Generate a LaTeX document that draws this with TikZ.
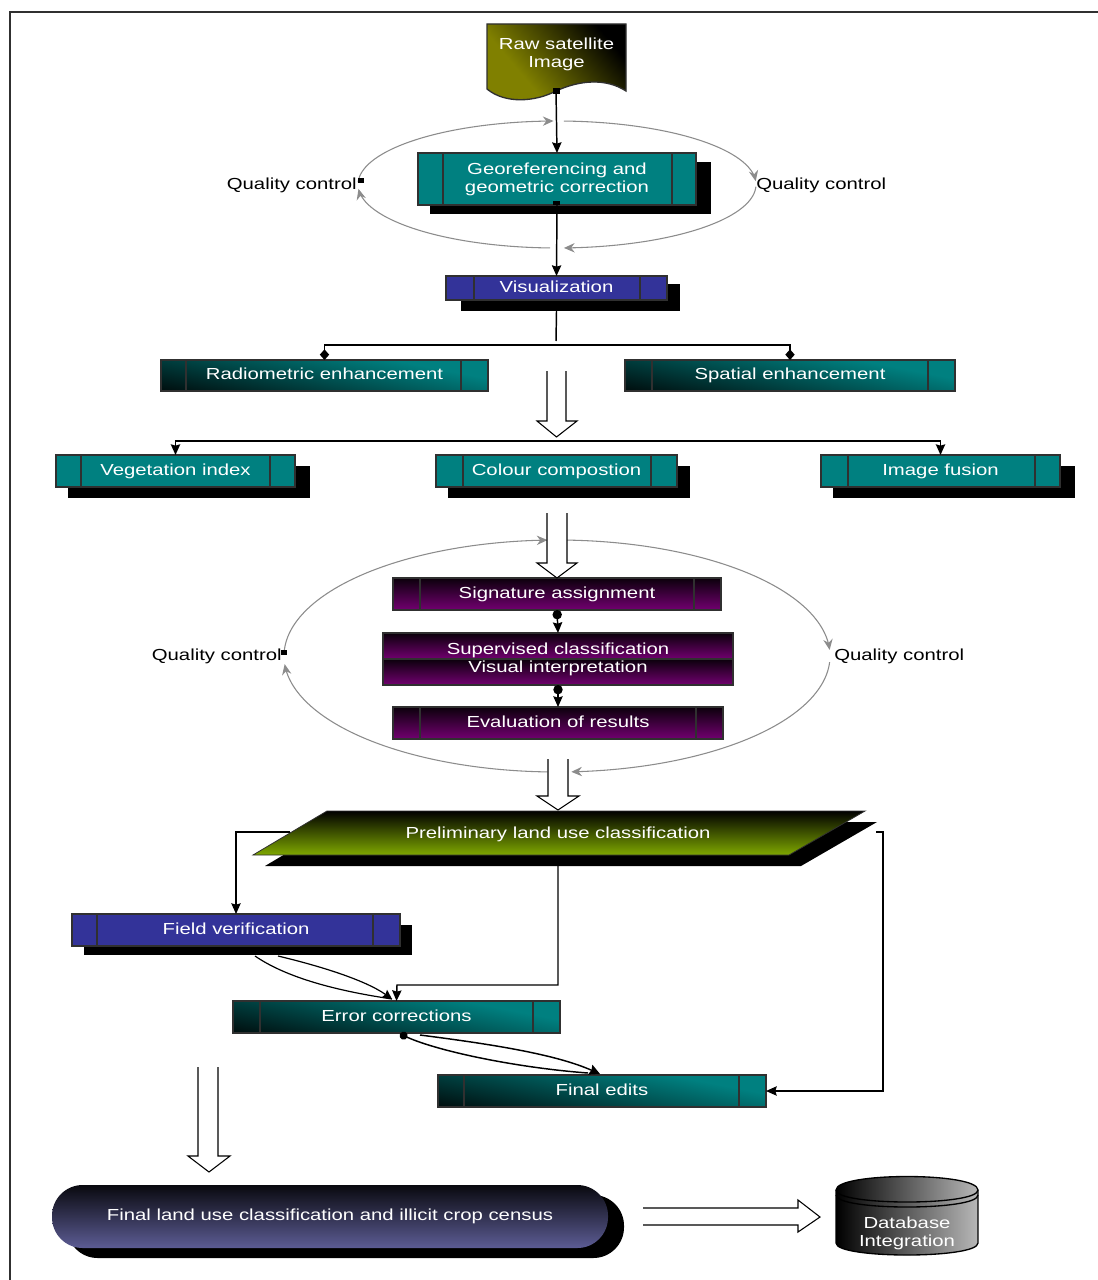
\documentclass[tikz,border=0pt]{standalone}
\usepackage{fontspec}
\setmainfont{Liberation Sans}
\usetikzlibrary{arrows.meta,calc}
\definecolor{tealb}{HTML}{008080}
\definecolor{blueb}{HTML}{333399}
\definecolor{purpb}{HTML}{720070}
\definecolor{oliveb}{HTML}{808000}
\definecolor{greenb}{HTML}{7FA800}
\definecolor{navyb}{HTML}{5C5C94}
\definecolor{loopgrey}{HTML}{8C8C8C}
\definecolor{edgeb}{HTML}{303030}
\pgfdeclareverticalshading{tealmix}{100bp}{color(0bp)=(black); color(15bp)=(black); color(68bp)=(tealb); color(100bp)=(tealb)}
\pgfdeclareverticalshading{olivemix}{100bp}{color(0bp)=(oliveb); color(35bp)=(oliveb); color(75bp)=(black); color(100bp)=(black)}
\newcommand{\tx}[1]{\scalebox{1.27}[1]{#1\vphantom{Ag}}}
\tikzset{
  boxbase/.style={draw=edgeb,line width=1pt,inner sep=0pt,outer sep=0pt,text=white,align=center,font=\fontsize{12}{13.5}\selectfont},
  tealflat/.style={fill=tealb},
  blueflat/.style={fill=blueb},
  tealdiag/.style={shading=tealmix,shading angle=-11},
  purpgrad/.style={top color=black!90!purpb,bottom color=purpb},
  divider/.style={edgeb,line width=1pt},
  conn/.style={black,line width=1.1pt},
  endtip/.style={-{Stealth[length=8pt,width=7pt,inset=1pt]}},
  lbl/.style={black,font=\fontsize{12}{13.5}\selectfont,inner sep=0pt},
  looparc/.style={loopgrey,line width=.8pt,-{Stealth[length=8pt,width=7pt]}},
  hollow/.style={draw=black,line width=.8pt,fill=white,line join=miter},
}
% \pbox{name}{x1}{y1}{x2}{y2}{d1}{d2}{style}{text}
\newcommand{\pbox}[9]{%
  \node[boxbase,#8,minimum width={(#4-#2)*0.75pt},minimum height={(#5-#3)*0.75pt}] (#1) at ({(#2+#4)/2},{(#3+#5)/2}) {};
  \node[boxbase,draw=none] (#1t) at ({(#2+#4)/2},{(#3+#5)/2}) {#9};
  \draw[divider] (#6,#3) -- (#6,#5);
  \draw[divider] (#7,#3) -- (#7,#5);
}
\newcommand{\shad}[4]{\fill[black] (#1,#2) rectangle (#3,#4);}
\begin{document}
\begin{tikzpicture}[x=0.75pt,y=-0.75pt]
\useasboundingbox (0,0) rectangle (1098,1280);
\fill[white] (0,0) rectangle (1098,1280);
% frame
\draw[edgeb,line width=1.1pt] (10,1280) -- (10,12) -- (1098,12);

% loops
\foreach \a/\b in {178/91,88/3,-2/-88,-92/-176}{
  \draw[looparc] plot[domain=\a:\b,samples=50,variable=\t] ({557+199*cos(\t)},{184.5-63.5*sin(\t)});
}
\foreach \a/\b in {178/92,88/3,-3/-87,-92/-176}{
  \draw[looparc] plot[domain=\a:\b,samples=60,variable=\t] ({557+273*cos(\t)},{656-116*sin(\t)});
}

% source document
\shade[draw=edgeb,line width=1pt,shading=olivemix,shading angle=-50]
  (487,24) -- (626,24) -- (626,91) .. controls (606,78) and (580,80) .. (556,91) .. controls (535,102) and (505,104) .. (487,89) -- cycle;
\node[boxbase,draw=none] (raw) at (556.5,54) {\tx{Raw satellite}\\\tx{Image}};
\coordinate (rawb) at (556,91);

% geometric correction
\shad{430}{162}{711}{214}
\pbox{geo}{418}{153}{696}{205}{443}{672}{tealflat}{\tx{Georeferencing and}\\\tx{geometric correction}}
\shad{461}{284}{680}{311}
\pbox{vis}{446}{276}{667}{300}{474}{640}{blueflat}{\tx{Visualization}}

% enhancement
\pbox{rad}{161}{360}{488}{391}{186}{461}{tealdiag}{\tx{Radiometric enhancement}}
\pbox{spa}{625}{360}{955}{391}{652}{928}{tealdiag}{\tx{Spatial enhancement}}
\shad{68}{466}{310}{498}
\pbox{veg}{56}{455}{295}{487}{81}{270}{tealflat}{\tx{Vegetation index}}
\shad{448}{466}{690}{498}
\pbox{col}{436}{455}{677}{487}{463}{651}{tealflat}{\tx{Colour compostion}}
\shad{833}{466}{1075}{498}
\pbox{fus}{821}{455}{1060}{487}{848}{1035}{tealflat}{\tx{Image fusion}}

% classification block
\pbox{sig}{393}{578}{721}{610}{420}{694}{purpgrad}{\tx{Signature assignment}}
\node[boxbase,purpgrad,minimum width={350*0.75pt},minimum height={26*0.75pt}] (sup) at (558,646) {};
\node[boxbase,purpgrad,minimum width={350*0.75pt},minimum height={26*0.75pt}] (vint) at (558,672) {};
\node[boxbase,draw=none] (supt) at (558,650) {\tx{Supervised classification}};
\node[boxbase,draw=none] (vintt) at (558,668) {\tx{Visual interpretation}};
\pbox{eva}{393}{707}{723}{739}{420}{696}{purpgrad}{\tx{Evaluation of results}}

% preliminary classification
\fill[black] (339,822) -- (877,822) -- (801,866) -- (265,866) -- cycle;
\shade[draw=edgeb,line width=.6pt,top color=black,bottom color=greenb]
  (327,811) -- (865,811) -- (789,855) -- (253,855) -- cycle;
\node[boxbase,draw=none] (pre) at (558,834) {\tx{Preliminary land use classification}};
\coordinate (preL) at (290,832);
\coordinate (preB) at (558,866);
\coordinate (preR) at (876,832);

% verification and edits
\shad{84}{925}{412}{955}
\pbox{fld}{72}{914}{400}{946}{97}{373}{blueflat}{\tx{Field verification}}
\pbox{err}{233}{1001}{560}{1033}{260}{533}{tealdiag}{\tx{Error corrections}}
\pbox{fin}{438}{1075}{766}{1107}{464}{739}{tealdiag}{\tx{Final edits}}

% final census
\fill[black,rounded corners=23pt] (67,1195) rectangle (624,1258);
\node[boxbase,draw=none,top color=black!90!navyb,bottom color=navyb,rounded corners=23pt,minimum width={556*0.75pt},minimum height={63*0.75pt}] (cen) at (330,1216.5) {\tx{Final land use classification and illicit crop census}};

% database
\shade[draw=black,line width=1pt,left color=black,right color=black!28]
  (836,1190) .. controls (836,1172) and (978,1172) .. (978,1190) -- (978,1243) .. controls (978,1259) and (836,1259) .. (836,1243) -- cycle;
\draw[black,line width=1pt] (836,1190) .. controls (836,1206) and (978,1206) .. (978,1190);
\draw[black,line width=1pt] (836,1195) .. controls (836,1211) and (978,1211) .. (978,1195);
\node[boxbase,draw=none] (db) at (907,1233) {\tx{Database}\\\tx{Integration}};

% labels
\node[lbl,anchor=east] (qc1) at (357,185) {\tx{Quality control}};
\node[lbl,anchor=west] (qc2) at (756,185) {\tx{Quality control}};
\node[lbl,anchor=east] (qc3) at (282,656) {\tx{Quality control}};
\node[lbl,anchor=west] (qc4) at (834,656) {\tx{Quality control}};
\fill[black] (358,178) rectangle (364,183);
\fill[black] (281,650) rectangle (287,655);

% connectors
\draw[conn,endtip] (rawb) -- (geo.north);
\fill[black] (553,88) rectangle (560,94);
\draw[conn,endtip] (geo.south) -- (vis.north);
\fill[black] (553,201) rectangle (560,205);
\coordinate (visb) at ($(vis.south)+(0,11)$);
\coordinate (bus1) at (556,341);
\coordinate (bus1h) at (556,345);
\draw[conn] (visb) -- (bus1);
\draw[conn,-{Diamond[length=8pt,width=7pt]}] (bus1h) -| (rad.north);
\draw[conn,-{Diamond[length=8pt,width=7pt]}] (bus1h) -| (spa.north);
\coordinate (bus2) at (556,441);
\draw[conn,endtip] (bus2) -| (veg.north);
\draw[conn,endtip] (bus2) -| (fus.north);
\draw[conn,{Circle[length=7pt,width=7pt]}-{Stealth[length=8pt,width=7pt,inset=1pt]}] (sig.south) -- (sup.north);
\draw[conn,{Circle[length=7pt,width=7pt]}-{Stealth[length=8pt,width=7pt,inset=1pt]}] (vint.south) -- (eva.north);
\draw[conn,endtip] (preL) -| (fld.north);
\draw[conn,endtip] (preB) |- (397,985) -- (err.north);
\draw[conn,endtip] (preR) -- (883,832) |- (fin.east);
\coordinate (fldA) at (255,956);
\coordinate (fldB) at (278,956);
\coordinate (errA) at (392,999);
\draw[black,line width=.9pt] (fldA) .. controls (290,980) and (345,992) .. (errA);
\draw[black,line width=.9pt,-{Stealth[length=7pt,width=7pt,inset=1pt]}] (fldB) .. controls (320,966) and (365,980) .. (errA);
\coordinate (errB) at (400,1034);
\coordinate (errC) at (420,1035);
\coordinate (finA) at (588,1073);
\coordinate (finB) at (600,1074);
\draw[conn,{Circle[length=6pt,width=6pt]}-] (errB) .. controls (440,1052) and (520,1068) .. (finA);
\draw[conn,-{Stealth[length=8pt,width=8pt,inset=1pt]}] (errC) .. controls (490,1044) and (555,1054) .. (finB);

% hollow arrows
\draw[hollow] (547,371) -- (547,421) -- (537,421) -- (556.5,437) -- (577,421) -- (566,421) -- (566,371);
\draw[hollow] (547,513) -- (547,563) -- (537,563) -- (557,578) -- (577,563) -- (567,563) -- (567,513);
\draw[hollow] (548,759) -- (548,796) -- (537,796) -- (558,810) -- (579,796) -- (568,796) -- (568,759);
\draw[hollow] (198,1067) -- (198,1156) -- (188,1156) -- (209,1172) -- (230,1156) -- (218,1156) -- (218,1067);
\draw[hollow] (643,1208) -- (798,1208) -- (798,1200) -- (820,1217) -- (798,1232) -- (798,1225) -- (643,1225);
\end{tikzpicture}
\end{document}
